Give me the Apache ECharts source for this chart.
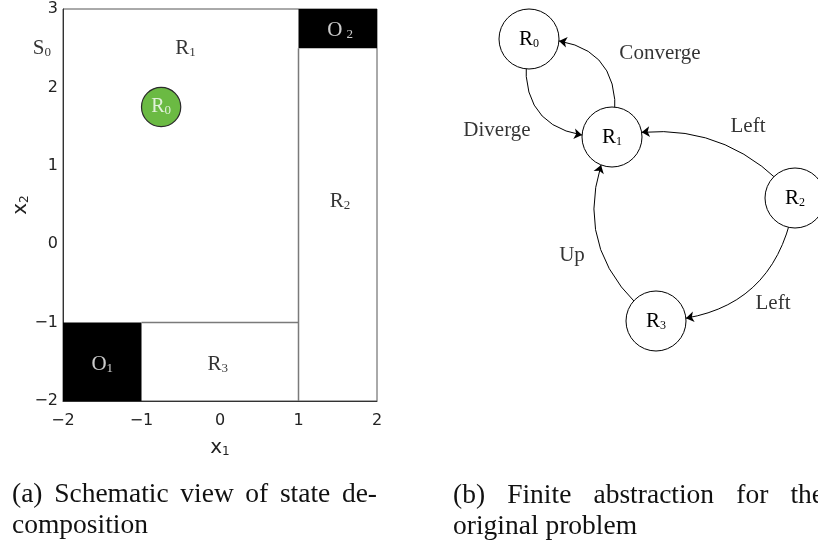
<!DOCTYPE html>
<html>
<head>
<meta charset="utf-8">
<title>State decomposition and finite abstraction</title>
<script src="https://cdn.jsdelivr.net/npm/echarts@6/dist/echarts.min.js"></script>
<style>
  html, body { margin: 0; padding: 0; background: #fff; }
  #main { width: 818px; height: 544px; }
</style>
</head>
<body>
<div id="main"></div>
<script>
// ---- (a) state space partition, in state coordinates (x1, x2) ----
const xTicks = [-2, -1, 0, 1, 2];
const yTicks = [-2, -1, 0, 1, 2, 3];
// obstacles: [x1min, x2min, x1max, x2max]
const obstacles = [[-2, -2, -1, -1], [1, 2.5, 2, 3]];
// partition boundaries: [x1a, x2a, x1b, x2b]
const boundaries = [[-1, -1, 1, -1], [1, -2, 1, 2.5]];
// initial set: [x1, x2, radius]
const initialSet = [[-0.75, 1.75, 0.25]];
// region labels: [letter, index, x1, x2]
const regionLabels = [
  ['S', '0', -2.27, 2.5],
  ['R', '1', -0.44, 2.5],
  ['R', '2', 1.53, 0.55],
  ['R', '3', -0.03, -1.53]
];
const obstacleLabels = [
  ['O', '1', -1.5, -1.53],
  ['O', '2', 1.53, 2.73]
];
const initialLabel = [['R', '0', -0.75, 1.75]];

// ---- (b) finite abstraction graph ----
const nodeNames = ['R0', 'R1', 'R2', 'R3'];
const nodeX = [109, 192, 375, 236];
const nodeY = [39, 137, 198, 321];
// transitions: [from, to, action, curveness]
const transitions = [
  ['R1', 'R0', 'Converge', -0.62],
  ['R0', 'R1', 'Diverge', -0.62],
  ['R2', 'R1', 'Left', -0.3],
  ['R2', 'R3', 'Left', 0.42],
  ['R3', 'R1', 'Up', 0.4]
];
// action label anchors in graph coordinates
const actionLabelX = [240, 77, 328, 353, 152];
const actionLabelY = [53, 130, 126, 303, 255];

// ---- captions ----
const captionA1 = ['(a)', 'Schematic', 'view', 'of', 'state', 'de-'];
const captionA2 = 'composition';
const captionB1 = ['(b)', 'Finite', 'abstraction', 'for', 'the'];
const captionB2 = 'original problem';

const SERIF = '"Liberation Serif", "DejaVu Serif", serif';
const SANS = '"DejaVu Sans", sans-serif';

function subRich(size, subSize, color) {
  return {
    r: { fontFamily: SERIF, fontSize: size, lineHeight: size, color: color, verticalAlign: 'bottom' },
    s: { fontFamily: SERIF, fontSize: subSize, lineHeight: Math.round(subSize * 0.6), color: color, verticalAlign: 'bottom' },
    g: { fontFamily: SERIF, fontSize: subSize, lineHeight: subSize, color: color, verticalAlign: 'bottom', padding: [0, 0, 0, 4] }
  };
}

const minusFmt = v => String(v).replace('-', '\u2212');

const axisNameRich = {
  a: { fontFamily: SANS, fontSize: 20, color: '#222', lineHeight: 20, verticalAlign: 'bottom' },
  b: { fontFamily: SANS, fontSize: 12, color: '#222', lineHeight: 2, verticalAlign: 'bottom' }
};

// Justified caption line: spreads the words evenly between x0 and x1.
const captionFont = '27.5px ' + SERIF;
const measureCtx = document.createElement('canvas').getContext('2d');
measureCtx.font = captionFont;
function justifiedLine(words, x0, x1, y) {
  const widths = words.map(w => measureCtx.measureText(w).width);
  const total = widths.reduce((a, b) => a + b, 0);
  const gap = (x1 - x0 - total) / (words.length - 1);
  let x = x0;
  return words.map((w, i) => {
    const el = { type: 'text', x: x, y: y, style: { text: w, font: captionFont, fill: '#111', verticalAlign: 'middle' } };
    x += widths[i] + gap;
    return el;
  });
}
function plainLine(text, x0, y) {
  return { type: 'text', x: x0, y: y, style: { text: text, font: captionFont, fill: '#111', verticalAlign: 'middle' } };
}

const chart = echarts.init(document.getElementById('main'), null, { renderer: 'canvas' });

const option = {
  animation: false,
  backgroundColor: '#fff',
  grid: [
    { left: 63, top: 9, width: 314, height: 392, show: true, borderColor: '#555', borderWidth: 1, backgroundColor: 'transparent' },
    { left: 420, top: 0, width: 398, height: 360, show: false }
  ],
  xAxis: [
    {
      gridIndex: 0, type: 'value', min: xTicks[0], max: xTicks[xTicks.length - 1], interval: 1,
      axisLine: { show: true, onZero: false, lineStyle: { color: '#333', width: 1 } },
      axisTick: { show: false },
      splitLine: { show: false },
      axisLabel: { color: '#222', fontFamily: SANS, fontSize: 16, margin: 12, formatter: minusFmt },
      name: '{a|x}{b|1}', nameLocation: 'middle', nameGap: 37,
      nameTextStyle: { rich: axisNameRich }
    },
    { gridIndex: 1, type: 'value', min: 0, max: 398, show: false }
  ],
  yAxis: [
    {
      gridIndex: 0, type: 'value', min: yTicks[0], max: yTicks[yTicks.length - 1], interval: 1,
      axisLine: { show: true, onZero: false, lineStyle: { color: '#333', width: 1 } },
      axisTick: { show: false },
      splitLine: { show: false },
      axisLabel: { color: '#222', fontFamily: SANS, fontSize: 16, margin: 5, formatter: minusFmt },
      name: '{a|x}{b|2}', nameLocation: 'middle', nameGap: 30, nameRotate: 90,
      nameTextStyle: { rich: axisNameRich }
    },
    { gridIndex: 1, type: 'value', min: 0, max: 360, inverse: true, show: false }
  ],
  series: [
    {
      // obstacles drawn as filled rectangles
      type: 'custom', xAxisIndex: 0, yAxisIndex: 0, clip: false,
      data: obstacles,
      renderItem: function (params, api) {
        const p0 = api.coord([api.value(0), api.value(3)]);
        const p1 = api.coord([api.value(2), api.value(1)]);
        return {
          type: 'rect',
          shape: { x: p0[0], y: p0[1], width: p1[0] - p0[0], height: p1[1] - p0[1] },
          style: { fill: '#000' }
        };
      }
    },
    {
      // partition boundaries
      type: 'custom', xAxisIndex: 0, yAxisIndex: 0, clip: false,
      data: boundaries,
      renderItem: function (params, api) {
        const a = api.coord([api.value(0), api.value(1)]);
        const b = api.coord([api.value(2), api.value(3)]);
        return {
          type: 'line',
          shape: { x1: a[0], y1: a[1], x2: b[0], y2: b[1] },
          style: { stroke: '#7a7a7a', lineWidth: 1.5 }
        };
      }
    },
    {
      // initial set R0
      type: 'custom', xAxisIndex: 0, yAxisIndex: 0, clip: false,
      data: initialSet,
      renderItem: function (params, api) {
        const c = api.coord([api.value(0), api.value(1)]);
        const r = api.size([api.value(2), 0])[0];
        return {
          type: 'circle',
          shape: { cx: c[0], cy: c[1], r: r },
          style: { fill: '#6bba43', stroke: '#2b2b2b', lineWidth: 1.2 }
        };
      }
    },
    {
      type: 'scatter', xAxisIndex: 0, yAxisIndex: 0, clip: false, symbolSize: 0, silent: true,
      data: regionLabels.map(d => ({ value: [d[2], d[3]], name: d[0], sub: d[1] })),
      label: {
        show: true, position: 'inside',
        formatter: p => '{r|' + p.data.name + '}{s|' + p.data.sub + '}',
        rich: subRich(21, 13, '#000')
      }
    },
    {
      type: 'scatter', xAxisIndex: 0, yAxisIndex: 0, clip: false, symbolSize: 0, silent: true,
      data: obstacleLabels.map(d => ({ value: [d[2], d[3]], name: d[0], sub: d[1] })),
      label: {
        show: true, position: 'inside',
        formatter: p => p.data.sub === '2'
          ? '{r|' + p.data.name + '}{g|' + p.data.sub + '}'
          : '{r|' + p.data.name + '}{s|' + p.data.sub + '}',
        rich: subRich(21, 13, '#fff')
      }
    },
    {
      type: 'scatter', xAxisIndex: 0, yAxisIndex: 0, clip: false, symbolSize: 0, silent: true,
      data: initialLabel.map(d => ({ value: [d[2], d[3]], name: d[0], sub: d[1] })),
      label: {
        show: true, position: 'inside',
        formatter: p => '{r|' + p.data.name + '}{s|' + p.data.sub + '}',
        rich: subRich(20, 13, '#fff')
      }
    },
    {
      // abstraction graph
      type: 'graph', coordinateSystem: 'cartesian2d', xAxisIndex: 1, yAxisIndex: 1,
      symbol: 'circle', symbolSize: 60,
      itemStyle: { color: '#fff', borderColor: '#000', borderWidth: 1 },
      edgeSymbol: ['none', 'arrow'], edgeSymbolSize: [0, 8],
      lineStyle: { color: '#000', width: 1, opacity: 1 },
      label: {
        show: true, position: 'inside',
        formatter: p => '{r|' + p.name.charAt(0) + '}{s|' + p.name.slice(1) + '}',
        rich: subRich(21, 12, '#000')
      },
      data: nodeNames.map((n, i) => ({ name: n, value: [nodeX[i], nodeY[i]] })),
      links: transitions.map(t => ({ source: t[0], target: t[1], lineStyle: { curveness: t[3] } })),
      silent: true
    },
    {
      // action labels on the transitions
      type: 'scatter', xAxisIndex: 1, yAxisIndex: 1, clip: false, symbolSize: 0, silent: true,
      data: transitions.map((t, i) => ({ value: [actionLabelX[i], actionLabelY[i]], name: t[2] })),
      label: {
        show: true, position: 'inside', formatter: p => p.name,
        fontFamily: SERIF, fontSize: 21, color: '#000'
      }
    }
  ],
  graphic: []
    .concat(justifiedLine(captionA1, 12, 377, 495))
    .concat([plainLine(captionA2, 12, 526)])
    .concat(justifiedLine(captionB1, 453, 824, 496))
    .concat([plainLine(captionB2, 453, 527)])
};

chart.setOption(option);
</script>
</body>
</html>
